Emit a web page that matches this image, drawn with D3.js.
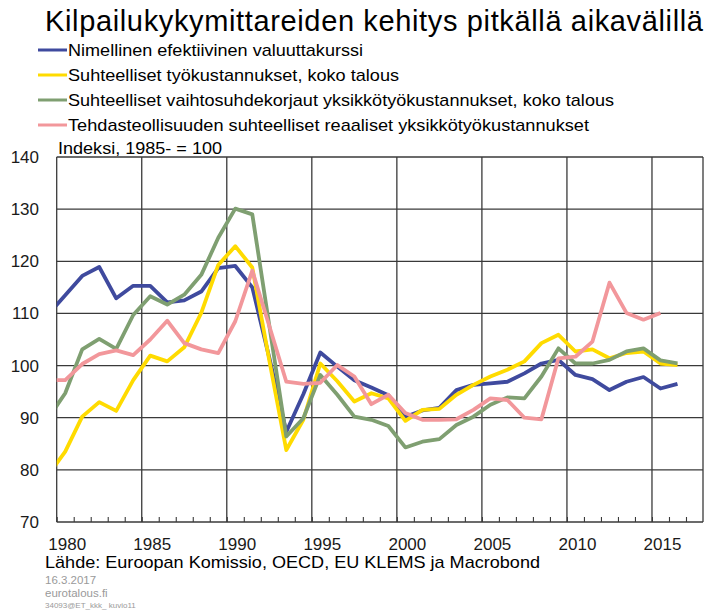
<!DOCTYPE html>
<html>
<head>
<meta charset="utf-8">
<script src="https://cdn.jsdelivr.net/npm/d3@7"></script>
<style>
  body { margin: 0; background: #fff; }
  text { font-family: "Liberation Sans", Arial, sans-serif; }
</style>
</head>
<body>
<div id="chart"></div>
<script>
// vuosi (pisteet piirretään vuoden keskelle)
var years = [1979, 1980, 1981, 1982, 1983, 1984, 1985, 1986, 1987, 1988, 1989,
             1990, 1991, 1992, 1993, 1994, 1995, 1996, 1997, 1998, 1999,
             2000, 2001, 2002, 2003, 2004, 2005, 2006, 2007, 2008, 2009,
             2010, 2011, 2012, 2013, 2014, 2015, 2016];

var nimellinen = [109.8, 113.5, 117.2, 118.9, 112.9, 115.3, 115.3, 112.1, 112.5, 114.2, 118.7,
                  119.1, 115.0, 101.5, 87.3, 94.5, 102.5, 99.8, 97.2, 95.8, 94.3,
                  90.2, 91.4, 91.9, 95.3, 96.3, 96.6, 96.9, 98.5, 100.4, 101.1,
                  98.2, 97.4, 95.3, 96.9, 97.8, 95.6, 96.5];

var tyokustannukset = [79.0, 83.5, 90.2, 93.0, 91.3, 97.2, 101.9, 100.8, 103.5, 110.1, 119.3,
                       122.9, 118.8, 101.0, 83.8, 89.6, 100.4, 97.0, 93.1, 94.7, 93.7,
                       89.4, 91.5, 91.7, 94.4, 96.3, 97.9, 99.2, 100.8, 104.3, 105.9,
                       102.7, 103.1, 101.4, 102.4, 102.7, 100.4, 100.1];

var vaihtosuhde = [89.9, 94.7, 103.1, 105.1, 103.2, 109.7, 113.3, 111.7, 113.6, 117.4, 124.5,
                   130.1, 129.0, 107.7, 86.4, 89.9, 98.2, 94.4, 90.2, 89.6, 88.4,
                   84.3, 85.4, 85.9, 88.6, 90.2, 92.5, 93.9, 93.7, 97.9, 103.3,
                   100.4, 100.4, 101.1, 102.7, 103.3, 101.0, 100.4];

var tehdas = [97.2, 97.2, 100.3, 102.2, 102.9, 102.0, 105.0, 108.6, 104.3, 103.1, 102.4,
              108.5, 118.2, 107.6, 96.9, 96.5, 96.7, 100.1, 97.9, 92.6, 94.4,
              90.9, 89.6, 89.6, 89.7, 91.5, 93.7, 93.4, 90.0, 89.7, 101.4,
              101.7, 104.6, 115.9, 110.1, 108.8, 110.1, null];

var seriesNames = ["Nimellinen efektiivinen valuuttakurssi",
                   "Suhteelliset työkustannukset, koko talous",
                   "Suhteelliset vaihtosuhdekorjaut yksikkötyökustannukset, koko talous",
                   "Tehdasteollisuuden suhteelliset reaaliset yksikkötyökustannukset"];
var seriesColors = ["#3f4a9e", "#ffdb00", "#7f9f71", "#f2979b"];
var seriesValues = [nimellinen, tyokustannukset, vaihtosuhde, tehdas];

var yTicks = [70, 80, 90, 100, 110, 120, 130, 140];
var xLabels = [1980, 1985, 1990, 1995, 2000, 2005, 2010, 2015];

var width = 706, height = 614;

var svg = d3.select("#chart").append("svg")
    .attr("width", width)
    .attr("height", height);

var x = d3.scaleLinear().domain([1980, 2018]).range([56.7, 703]);
var y = d3.scaleLinear().domain([70, 140]).range([522, 157]);

// otsikko
svg.append("text")
    .attr("x", 45).attr("y", 31)
    .attr("font-size", "29px")
    .attr("textLength", 658)
    .attr("lengthAdjust", "spacing")
    .attr("fill", "#000")
    .text("Kilpailukykymittareiden kehitys pitkällä aikavälillä");

// selite
var legendEnds = [363, 399, 614, 589];
var legend = svg.selectAll("g.legend")
    .data(seriesNames)
    .enter().append("g")
    .attr("class", "legend")
    .attr("transform", function (d, i) { return "translate(0," + (50 + i * 25) + ")"; });

legend.append("line")
    .attr("x1", 38).attr("x2", 67)
    .attr("stroke", function (d, i) { return seriesColors[i]; })
    .attr("stroke-width", 3);

legend.append("text")
    .attr("x", 68).attr("y", 6)
    .attr("font-size", "17px")
    .attr("textLength", function (d, i) { return legendEnds[i] - 68; })
    .attr("lengthAdjust", "spacingAndGlyphs")
    .text(function (d) { return d; });

svg.append("text")
    .attr("x", 58).attr("y", 154)
    .attr("font-size", "17px")
    .attr("textLength", 164)
    .attr("lengthAdjust", "spacingAndGlyphs")
    .text("Indeksi, 1985- = 100");

// ruudukko
var grid = svg.append("g").attr("stroke", "#3a3a3a").attr("stroke-width", 1.3);

grid.selectAll("line.h")
    .data(yTicks)
    .enter().append("line")
    .attr("x1", x(1980)).attr("x2", x(2018))
    .attr("y1", function (d) { return y(d); })
    .attr("y2", function (d) { return y(d); });

grid.selectAll("line.v")
    .data([1980, 1985, 1990, 1995, 2000, 2005, 2010, 2015, 2018])
    .enter().append("line")
    .attr("x1", function (d) { return x(d); })
    .attr("x2", function (d) { return x(d); })
    .attr("y1", y(140)).attr("y2", y(70));

// vuosittaiset pienet merkit
var xAxis = d3.axisBottom(x)
    .tickValues(years.filter(function (d) { return d >= 1980; }).concat([2017]))
    .tickSize(-5)
    .tickFormat("");
svg.append("g")
    .attr("transform", "translate(0," + y(70) + ")")
    .call(xAxis)
    .call(function (g) { g.select(".domain").remove(); })
    .selectAll("line").attr("stroke", "#3a3a3a").attr("stroke-width", 1.1);

// akselien tekstit
svg.selectAll("text.ylab")
    .data(yTicks)
    .enter().append("text")
    .attr("x", 39)
    .attr("y", function (d) { return y(d) + 6; })
    .attr("text-anchor", "end")
    .attr("font-size", "17px")
    .attr("fill", "#1a1a1a")
    .text(function (d) { return d; });

svg.selectAll("text.xlab")
    .data(xLabels)
    .enter().append("text")
    .attr("x", function (d) { return x(d + 0.5) + 2; })
    .attr("y", 550)
    .attr("text-anchor", "middle")
    .attr("font-size", "17px")
    .attr("fill", "#1a1a1a")
    .text(function (d) { return d; });

// sarjat
svg.append("clipPath").attr("id", "plotclip")
  .append("rect")
    .attr("x", x(1980)).attr("y", y(140))
    .attr("width", x(2018) - x(1980)).attr("height", y(70) - y(140));

var line = d3.line()
    .defined(function (d) { return d[1] != null; })
    .x(function (d) { return x(d[0] + 0.5); })
    .y(function (d) { return y(d[1]); });

svg.append("g").attr("clip-path", "url(#plotclip)")
  .selectAll("path")
    .data(seriesValues)
    .enter().append("path")
    .attr("fill", "none")
    .attr("stroke", function (d, i) { return seriesColors[i]; })
    .attr("stroke-width", 3.8)
    .attr("stroke-linejoin", "round")
    .attr("d", function (vals) {
        return line(years.map(function (yr, j) { return [yr, vals[j]]; }));
    });

// lähde
svg.append("text")
    .attr("x", 45).attr("y", 568)
    .attr("font-size", "17px")
    .attr("textLength", 495)
    .attr("lengthAdjust", "spacingAndGlyphs")
    .text("Lähde: Euroopan Komissio, OECD, EU KLEMS ja Macrobond");

svg.append("text")
    .attr("x", 45).attr("y", 584)
    .attr("font-size", "11.5px")
    .attr("fill", "#9a9a9a")
    .text("16.3.2017");

svg.append("text")
    .attr("x", 45).attr("y", 597)
    .attr("font-size", "11.5px")
    .attr("fill", "#9a9a9a")
    .text("eurotalous.fi");

svg.append("text")
    .attr("x", 45).attr("y", 608)
    .attr("font-size", "8px")
    .attr("fill", "#9a9a9a")
    .text("34093@ET_kkk_ kuvio11");
</script>
</body>
</html>
